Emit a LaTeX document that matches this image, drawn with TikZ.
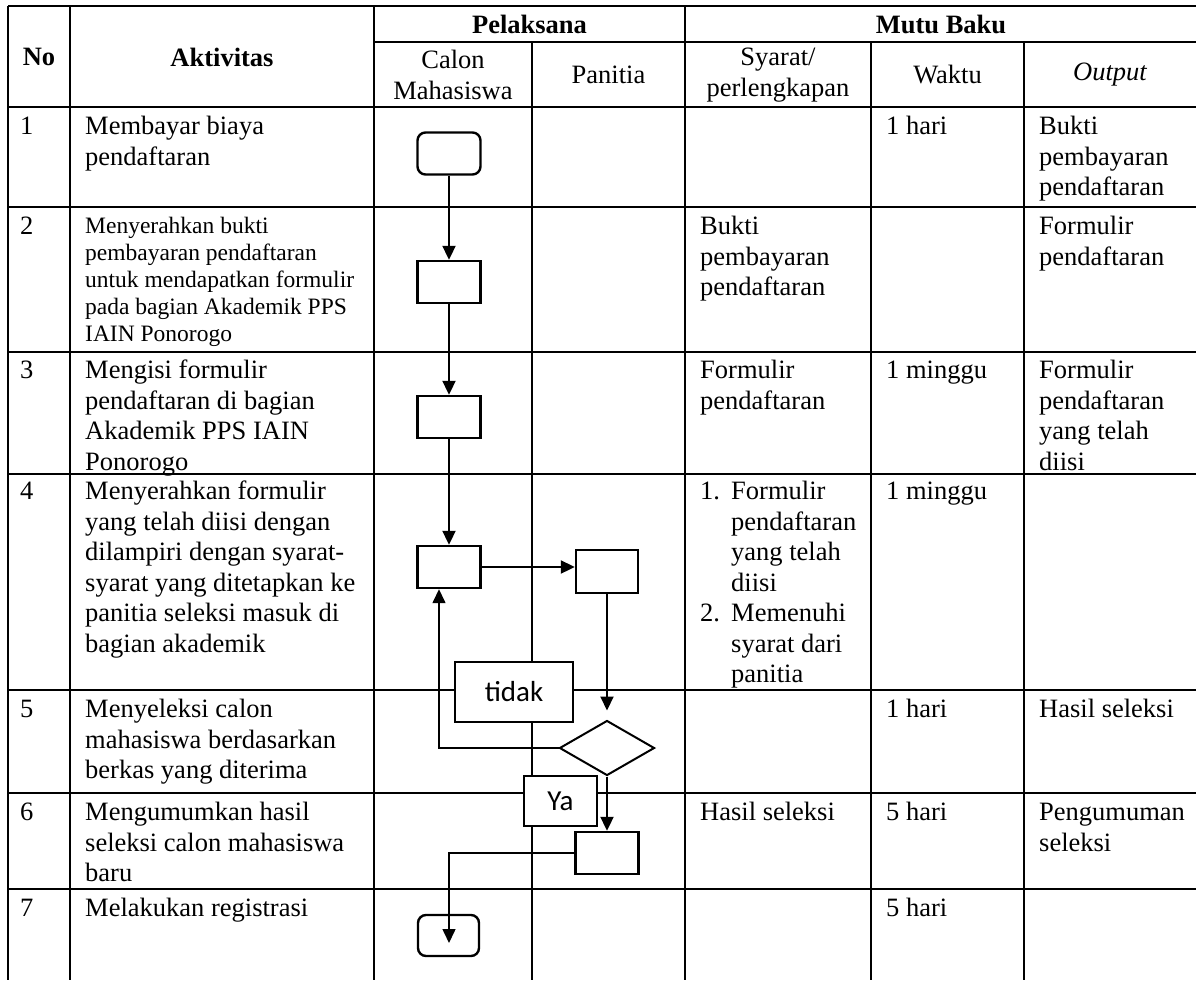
\documentclass[tikz,border=0pt]{standalone}
\usepackage{fontspec}
\setmainfont{Liberation Serif}
\newfontfamily\calib{Carlito}
\usetikzlibrary{arrows.meta,shapes.geometric}
\newcommand\bodyfont{\fontsize{26.5}{30.5}\selectfont}
\newcommand\smallbody{\fontsize{23.5}{26.8}\selectfont}
\begin{document}
\begin{tikzpicture}[x=1pt,y=-1pt,
  grid/.style={line width=1.9pt},
  cell/.style={anchor=north west, inner sep=0pt, align=left, font=\bodyfont},
  cellsmall/.style={cell, font=\smallbody},
  head/.style={inner sep=0pt, align=center, font=\bodyfont},
  proc/.style={draw, line width=2.4pt, minimum width=63pt, minimum height=42pt, inner sep=0pt, fill=white},
  term/.style={proc, rounded corners=8pt},
  decision/.style={draw, diamond, line width=2pt, minimum width=95pt, minimum height=55pt, aspect=1.73, inner sep=0pt, fill=white},
  lbl/.style={draw, line width=2.2pt, fill=white, inner sep=0pt, font=\calib\fontsize{29}{33}\selectfont},
  flow/.style={line width=2pt, -{Triangle[length=14pt,width=13pt]}},
  thinflow/.style={flow, line width=1.5pt},
]
\useasboundingbox (0,0) rectangle (1196,980);
% grid
\draw[grid] (8,6) -- (1196,6);
\draw[grid] (374,42) -- (1196,42);
\foreach \yy in {107,207,352,474,690,793,889} \draw[grid] (8,\yy) -- (1196,\yy);
\foreach \xx in {8,70,374,685} \draw[grid] (\xx,6) -- (\xx,980);
\foreach \xx in {532,871,1024} \draw[grid] (\xx,42) -- (\xx,980);
% header
\node[head] (hno) at (39,57) {\bfseries No};
\node[head] (hakt) at (222,57) {\bfseries Aktivitas};
\node[head] (hpel) at (529.5,24) {\bfseries Pelaksana};
\node[head] (hmutu) at (941,24) {\bfseries Mutu Baku};
\node[head] (hcalon) at (453,75) {Calon\\Mahasiswa};
\node[head] (hpan) at (608.5,75) {Panitia};
\node[head] (hsya) at (778,75) {Syarat/\\perlengkapan};
\node[head] (hwak) at (947.5,75) {Waktu};
\node[head] (hout) at (1110,75) {\itshape Output};
% row 1
\node[cell] (n1) at (20,113) {\strut 1};
\node[cell] (a1) at (85,113) {\strut Membayar biaya\\pendaftaran};
\node[cell] (w1) at (886,113) {\strut 1 hari};
\node[cell] (o1) at (1039,113) {\strut Bukti\\pembayaran\\pendaftaran};
% row 2
\node[cell] (n2) at (20,213) {\strut 2};
\node[cellsmall] (a2) at (85,215) {\strut Menyerahkan bukti\\pembayaran pendaftaran\\untuk mendapatkan formulir\\pada bagian Akademik PPS\\IAIN Ponorogo};
\node[cell] (s2) at (700,213) {\strut Bukti\\pembayaran\\pendaftaran};
\node[cell] (o2) at (1039,213) {\strut Formulir\\pendaftaran};
% row 3
\node[cell] (n3) at (20,357) {\strut 3};
\node[cell] (a3) at (85,357) {\strut Mengisi formulir\\pendaftaran di bagian\\Akademik PPS IAIN\\Ponorogo};
\node[cell] (s3) at (700,357) {\strut Formulir\\pendaftaran};
\node[cell] (w3) at (886,357) {\strut 1 minggu};
\node[cell] (o3) at (1039,357) {\strut Formulir\\pendaftaran\\yang telah\\diisi};
% row 4
\node[cell] (n4) at (20,478) {\strut 4};
\node[cell] (a4) at (85,478) {\strut Menyerahkan formulir\\yang telah diisi dengan\\dilampiri dengan syarat-\\syarat yang ditetapkan ke\\panitia seleksi masuk di\\bagian akademik};
\node[cell] (s4a) at (700,478) {\strut 1.};
\node[cell] (s4b) at (731,478) {\strut Formulir\\pendaftaran\\yang telah\\diisi};
\node[cell] (s4c) at (700,600) {\strut 2.};
\node[cell] (s4d) at (731,600) {\strut Memenuhi\\syarat dari\\panitia};
\node[cell] (w4) at (886,478) {\strut 1 minggu};
% row 5
\node[cell] (n5) at (20,696) {\strut 5};
\node[cell] (a5) at (85,696) {\strut Menyeleksi calon\\mahasiswa berdasarkan\\berkas yang diterima};
\node[cell] (w5) at (886,696) {\strut 1 hari};
\node[cell] (o5) at (1039,696) {\strut Hasil seleksi};
% row 6
\node[cell] (n6) at (20,799) {\strut 6};
\node[cell] (a6) at (85,799) {\strut Mengumumkan hasil\\seleksi calon mahasiswa\\baru};
\node[cell] (s6) at (700,799) {\strut Hasil seleksi};
\node[cell] (w6) at (886,799) {\strut 5 hari};
\node[cell] (o6) at (1039,799) {\strut Pengumuman\\seleksi};
% row 7
\node[cell] (n7) at (20,895) {\strut 7};
\node[cell] (a7) at (85,895) {\strut Melakukan registrasi};
\node[cell] (w7) at (886,895) {\strut 5 hari};
% flow shapes
\node[term] (b1) at (449,153.5) {};
\node[proc] (b2) at (449,282) {};
\node[proc] (b3) at (449,417) {};
\node[proc] (b4) at (449,567) {};
\node[proc, minimum width=62pt, minimum height=43pt] (p4) at (607,571.5) {};
\node[decision] (d5) at (607,748) {};
\node[proc] (b6) at (607,853) {};
\node[term, minimum width=61pt, minimum height=41pt] (b7) at (448.5,935.5) {};
\node[lbl, minimum width=118pt, minimum height=60pt] (tidak) at (514,692) {tidak};
\node[lbl, minimum width=73pt, minimum height=50pt] (ya) at (560.5,801) {Ya};
\coordinate (loopx) at (439,0);
\coordinate (b7end) at (449,943);
% connectors
\draw[flow] (b1) -- (b2);
\draw[flow] (b2) -- (b3);
\draw[flow] (b3) -- (b4);
\draw[flow] (b4.east) -- (b4.east -| p4.west);
\draw[flow, shorten >=9pt] (p4.south) -- (d5.north);
\draw[thinflow] (d5.west) -| (loopx |- b4.south);
\draw[flow] (d5.south) -- (b6.north);
\draw[thinflow] (b6.west) -| (b7end);
\end{tikzpicture}
\end{document}
